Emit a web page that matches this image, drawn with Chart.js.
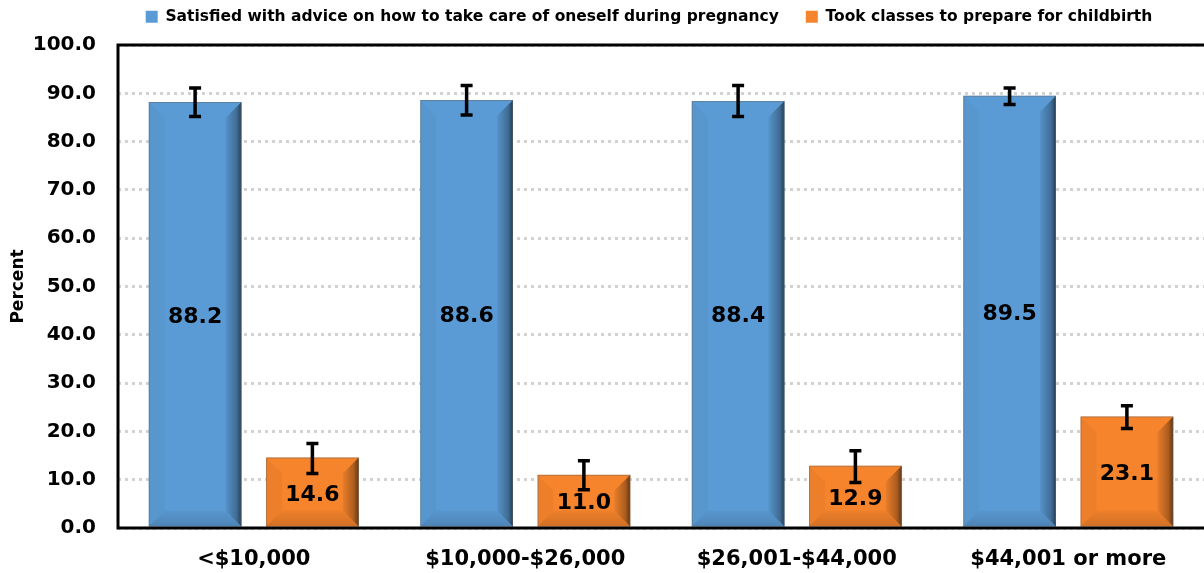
<!DOCTYPE html>
<html>
<head>
<meta charset="utf-8">
<script src="https://cdn.jsdelivr.net/npm/chart.js@4"></script>
<style>
  html, body { margin: 0; padding: 0; background: #fff; overflow: hidden; }
</style>
</head>
<body>
<canvas id="chart" width="1204" height="573"></canvas>
<script>
// categories and series
const categories = ['<$10,000', '$10,000-$26,000', '$26,001-$44,000', '$44,001 or more'];
const seriesNames = ['Satisfied with advice on how to take care of oneself during pregnancy', 'Took classes to prepare for childbirth'];
const satisfied = [88.2, 88.6, 88.4, 89.5];
const classes = [14.6, 11.0, 12.9, 23.1];
// error bar ends
const satisfiedLow = [85.2, 85.5, 85.2, 87.7];
const satisfiedHigh = [91.1, 91.6, 91.6, 91.1];
const classesLow = [11.3, 7.9, 9.4, 20.6];
const classesHigh = [17.5, 13.9, 16.0, 25.3];
const yTicks = [0, 10, 20, 30, 40, 50, 60, 70, 80, 90, 100];

const FONT = "'DejaVu Sans', sans-serif";
const BLUE = '#5b9bd5';
const ORANGE = '#f5842c';

// bevel look on each bar
const bevelPlugin = {
  id: 'bevel',
  afterDatasetsDraw(chart) {
    const ctx = chart.ctx;
    chart.data.datasets.forEach((ds, i) => {
      chart.getDatasetMeta(i).data.forEach(el => {
        const l = el.x - el.width / 2, r = el.x + el.width / 2, t = el.y, b = el.base;
        const bv = Math.min(16, (b - t) / 2);
        ctx.save();
        // right side shade
        const g = ctx.createLinearGradient(r - bv, 0, r, 0);
        g.addColorStop(0, 'rgba(0,0,0,0.05)');
        g.addColorStop(0.7, 'rgba(0,0,0,0.3)');
        g.addColorStop(1, 'rgba(0,0,0,0.6)');
        ctx.fillStyle = g;
        ctx.beginPath();
        ctx.moveTo(r, t); ctx.lineTo(r - bv, t + bv); ctx.lineTo(r - bv, b - bv); ctx.lineTo(r, b);
        ctx.closePath(); ctx.fill();
        // bottom shade
        const gb = ctx.createLinearGradient(0, b - bv, 0, b);
        gb.addColorStop(0, 'rgba(0,0,0,0.03)');
        gb.addColorStop(1, 'rgba(0,0,0,0.15)');
        ctx.fillStyle = gb;
        ctx.beginPath();
        ctx.moveTo(l, b); ctx.lineTo(l + bv, b - bv); ctx.lineTo(r - bv, b - bv); ctx.lineTo(r, b);
        ctx.closePath(); ctx.fill();
        // left shade
        ctx.fillStyle = 'rgba(0,0,0,0.03)';
        ctx.beginPath();
        ctx.moveTo(l, t); ctx.lineTo(l + bv, t + bv); ctx.lineTo(l + bv, b - bv); ctx.lineTo(l, b);
        ctx.closePath(); ctx.fill();
        ctx.strokeStyle = 'rgba(100,100,100,0.45)';
        ctx.lineWidth = 1;
        ctx.strokeRect(l + 0.5, t + 0.5, r - l - 1, b - t);
        ctx.restore();
      });
    });
  }
};

// value labels in the middle of each bar
const labelPlugin = {
  id: 'valueLabels',
  afterDatasetsDraw(chart) {
    const ctx = chart.ctx;
    ctx.save();
    ctx.font = 'bold 22px ' + FONT;
    ctx.fillStyle = '#000';
    ctx.textAlign = 'center';
    ctx.textBaseline = 'middle';
    chart.data.datasets.forEach((ds, i) => {
      chart.getDatasetMeta(i).data.forEach((el, j) => {
        ctx.fillText(ds.data[j].toFixed(1), el.x, (el.y + el.base) / 2 + 3);
      });
    });
    ctx.restore();
  }
};

// error bars
const errorPlugin = {
  id: 'errorBars',
  afterDatasetsDraw(chart) {
    const ctx = chart.ctx;
    const y = chart.scales.y;
    const lows = [satisfiedLow, classesLow];
    const highs = [satisfiedHigh, classesHigh];
    ctx.save();
    ctx.strokeStyle = '#000';
    ctx.lineWidth = 3.5;
    chart.data.datasets.forEach((ds, i) => {
      chart.getDatasetMeta(i).data.forEach((el, j) => {
        const y1 = y.getPixelForValue(lows[i][j]);
        const y2 = y.getPixelForValue(highs[i][j]);
        ctx.beginPath();
        ctx.moveTo(el.x, y1); ctx.lineTo(el.x, y2);
        ctx.moveTo(el.x - 6, y1); ctx.lineTo(el.x + 6, y1);
        ctx.moveTo(el.x - 6, y2); ctx.lineTo(el.x + 6, y2);
        ctx.stroke();
      });
    });
    ctx.restore();
  }
};

// plot frame (left, top, bottom)
const framePlugin = {
  id: 'frame',
  afterDatasetsDraw(chart) {
    const { ctx, chartArea: a } = chart;
    ctx.save();
    ctx.strokeStyle = '#000';
    ctx.lineWidth = 3;
    ctx.beginPath();
    ctx.moveTo(a.right, a.top); ctx.lineTo(a.left, a.top); ctx.lineTo(a.left, a.bottom); ctx.lineTo(a.right, a.bottom);
    ctx.stroke();
    ctx.restore();
  }
};

// legend: fixed height, wide gap between items, row pulled up and centred over the plot
const LEGEND_GAP = 27;
const legendHeight = {
  id: 'legendHeight',
  beforeInit(chart) {
    const fit = chart.legend.fit;
    chart.legend.fit = function () { fit.bind(chart.legend)(); this.height = 45; };
  },
  beforeDraw(chart) {
    chart.legend.top = 9 - LEGEND_GAP;
    chart.legend.left = chart.chartArea.left - 24;
    chart.legend.right = chart.chartArea.right;
  }
};

new Chart(document.getElementById('chart'), {
  type: 'bar',
  data: {
    labels: categories,
    datasets: [
      { label: seriesNames[0], data: satisfied, backgroundColor: BLUE, borderWidth: 0 },
      { label: seriesNames[1], data: classes, backgroundColor: ORANGE, borderWidth: 0 }
    ]
  },
  options: {
    responsive: false,
    animation: false,
    devicePixelRatio: 1,
    layout: { padding: { left: 0, right: 0, top: 0, bottom: 0 } },
    datasets: { bar: { categoryPercentage: 0.864, barPercentage: 0.79 } },
    plugins: {
      tooltip: { enabled: false },
      legend: {
        position: 'top',
        labels: {
          color: '#000',
          font: { family: FONT, weight: 'bold', size: 15.5 },
          boxWidth: 12, boxHeight: 12, padding: LEGEND_GAP
        }
      }
    },
    scales: {
      x: {
        grid: { display: false },
        border: { display: false },
        ticks: { color: '#000', font: { family: FONT, weight: 'bold', size: 21 }, padding: 11, maxRotation: 0 },
        afterFit(s) { s.height = 45; }
      },
      y: {
        min: 0, max: 100,
        afterBuildTicks(s) { s.ticks = yTicks.map(v => ({ value: v })); },
        grid: { color: '#d2d2d2', lineWidth: 3, drawTicks: false },
        border: { display: false, dash: [3, 4] },
        ticks: { color: '#000', font: { family: FONT, weight: 'bold', size: 20 }, padding: 22, callback: v => v.toFixed(1) },
        title: { display: true, text: 'Percent', color: '#000', font: { family: FONT, weight: 'bold', size: 17 }, padding: { top: 8, bottom: 0 } },
        afterFit(s) { s.width = 118; }
      }
    }
  },
  plugins: [bevelPlugin, labelPlugin, errorPlugin, framePlugin, legendHeight]
});
</script>
</body>
</html>
